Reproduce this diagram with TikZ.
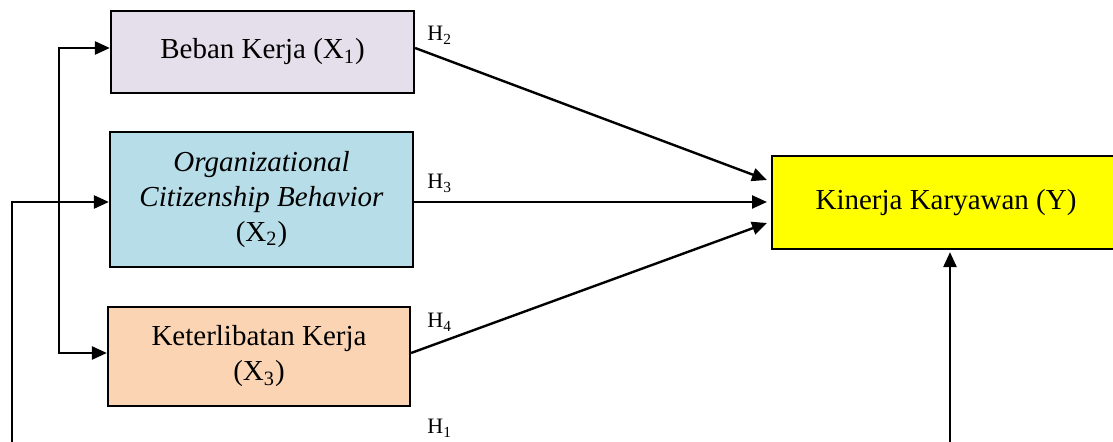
\documentclass[tikz,border=0pt]{standalone}
\usepackage{fontspec}
\setmainfont{Liberation Serif}
\usetikzlibrary{arrows.meta}
\definecolor{lav}{HTML}{E5DFEC}
\definecolor{lblue}{HTML}{B7DDE8}
\definecolor{peach}{HTML}{FBD4B4}
\definecolor{yel}{HTML}{FFFF00}
\begin{document}
\begin{tikzpicture}[x=0.5pt,y=-0.5pt,
  var/.style={draw=black,line width=1.1pt,inner sep=0pt,align=center,
    font=\fontsize{14.5}{17.5}\selectfont},
  hlab/.style={anchor=base west,inner sep=0pt,font=\fontsize{11}{13}\selectfont},
  arr/.style={line width=1.2pt,-{Triangle[length=7.5pt,width=6.5pt]}},
  ln/.style={line width=1.2pt}]
\useasboundingbox (0,0) rectangle (1113,442);
\clip (0,0) rectangle (1113,442);
\node[var,fill=lav,minimum width=151.5pt,minimum height=41pt] (b1) at (262.5,52) {Beban Kerja (X\textsubscript{1})};
\node[var,fill=lblue,minimum width=151.5pt,minimum height=67.5pt] (b2) at (261.5,199.5) {\textit{Organizational}\\\textit{Citizenship Behavior}\\(X\textsubscript{2})};
\node[var,fill=peach,minimum width=151pt,minimum height=49.5pt] (b3) at (259,356.5) {Keterlibatan Kerja\\(X\textsubscript{3})};
\node[var,fill=yel,minimum width=174pt,minimum height=46.5pt] (y) at (946,202.5) {Kinerja Karyawan (Y)};
% reference heights
\coordinate (r1) at (0,48);
\coordinate (r2) at (0,202);
\coordinate (r3) at (0,353);
\coordinate (t1) at (767,180);
\coordinate (t2) at (767,202);
\coordinate (t3) at (767,223);
\coordinate (bot) at (950,445);
\coordinate (lft) at (12,445);
\coordinate (in1) at (59,48);
\coordinate (in3) at (59,353);
\coordinate (o2) at (12,202);
% paths to Y
\draw[arr] (b1.east |- r1) -- (t1);
\draw[arr] (b2.east |- r2) -- (t2);
\draw[arr] (b3.east |- r3) -- (t3);
\draw[arr] (bot) -- ([yshift=-1pt]y.south -| bot);
% left connectors
\draw[arr] (in3) -- (in1) -- (b1.west |- r1);
\draw[arr] (in1) -- (in3) -- (b3.west |- r3);
\draw[arr] (lft) -- (o2) -- (b2.west |- r2);
% labels
\node[hlab] (h2) at (427,41) {H\textsubscript{2}};
\node[hlab] (h3) at (427,189) {H\textsubscript{3}};
\node[hlab] (h4) at (427,328) {H\textsubscript{4}};
\node[hlab] (h1) at (427,434) {H\textsubscript{1}};
\end{tikzpicture}
\end{document}
